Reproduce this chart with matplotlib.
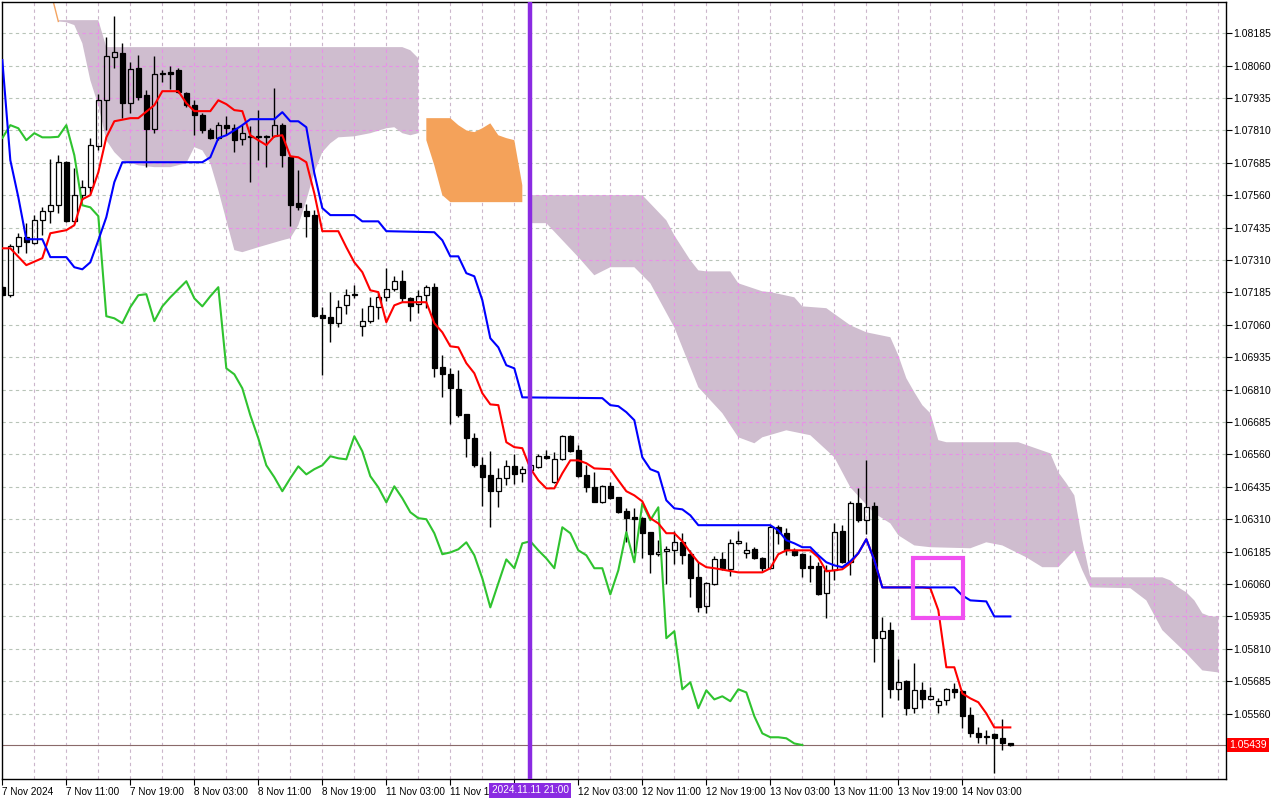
import matplotlib
matplotlib.use("Agg")
import matplotlib.pyplot as plt
import matplotlib.transforms as mtransforms
from matplotlib.patches import Rectangle
import numpy as np

plt.rcParams['font.family'] = ['Liberation Sans', 'DejaVu Sans']

# ---------------- data (EURUSD H1) ----------------
time_labels = ["7 Nov 2024", "7 Nov 11:00", "7 Nov 19:00", "8 Nov 03:00", "8 Nov 11:00",
               "8 Nov 19:00", "11 Nov 03:00", "11 Nov 11:00", "", "12 Nov 03:00",
               "12 Nov 11:00", "12 Nov 19:00", "13 Nov 03:00", "13 Nov 11:00", "13 Nov 19:00",
               "14 Nov 03:00"]
time_label_bars = [0, 8, 16, 24, 32, 40, 48, 56, 64, 72, 80, 88, 96, 104, 112, 120]

opens = [1.07205, 1.07174, 1.07363, 1.07398, 1.07375, 1.07463, 1.07498, 1.07521, 1.07687, 1.07459,
         1.07560, 1.07591, 1.07749, 1.07926, 1.08092, 1.08108, 1.07915, 1.08050, 1.07945, 1.07814,
         1.08027, 1.08034, 1.08042, 1.07953, 1.07907, 1.07868, 1.07810, 1.07780, 1.07830, 1.07818,
         1.07776, 1.07787, 1.07787, 1.07787, 1.07787, 1.07830, 1.07706, 1.07529, 1.07498, 1.07483,
         1.07097, 1.07089, 1.07066, 1.07135, 1.07174, 1.07054, 1.07074, 1.07128, 1.07166, 1.07197,
         1.07228, 1.07162, 1.07139, 1.07174, 1.07205, 1.06896, 1.06869, 1.06811, 1.06715, 1.06622,
         1.06518, 1.06479, 1.06418, 1.06468, 1.06514, 1.06487, 1.06499, 1.06510, 1.06553, 1.06452,
         1.06541, 1.06630, 1.06576, 1.06479, 1.06433, 1.06375, 1.06437, 1.06395, 1.06341, 1.06317,
         1.06314, 1.06260, 1.06175, 1.06186, 1.06190, 1.06221, 1.06175, 1.06086, 1.05974, 1.06059,
         1.06155, 1.06117, 1.06217, 1.06179, 1.06194, 1.06159, 1.06121, 1.06279, 1.06256, 1.06190,
         1.06175, 1.06128, 1.06128, 1.06024, 1.06113, 1.06263, 1.06144, 1.06371, 1.06306, 1.06360,
         1.05851, 1.05882, 1.05654, 1.05685, 1.05581, 1.05650, 1.05615, 1.05592, 1.05611, 1.05654,
         1.05646, 1.05554, 1.05484, 1.05473, 1.05480, 1.05465, 1.05445]
highs = [1.07209, 1.07371, 1.07413, 1.07452, 1.07483, 1.07513, 1.07699, 1.07714, 1.07691, 1.07664,
         1.07618, 1.07780, 1.07949, 1.08169, 1.08250, 1.08146, 1.08073, 1.08100, 1.07965, 1.08096,
         1.08042, 1.08057, 1.08050, 1.07957, 1.07926, 1.07876, 1.07818, 1.07841, 1.07864, 1.07834,
         1.07830, 1.07826, 1.07888, 1.07791, 1.07972, 1.07837, 1.07714, 1.07656, 1.07525, 1.07502,
         1.07128, 1.07186, 1.07155, 1.07197, 1.07213, 1.07124, 1.07166, 1.07182, 1.07278, 1.07247,
         1.07270, 1.07166, 1.07193, 1.07213, 1.07220, 1.06942, 1.06892, 1.06885, 1.06715, 1.06642,
         1.06549, 1.06572, 1.06506, 1.06537, 1.06560, 1.06514, 1.06530, 1.06560, 1.06576, 1.06568,
         1.06634, 1.06634, 1.06595, 1.06518, 1.06491, 1.06441, 1.06452, 1.06395, 1.06352, 1.06352,
         1.06317, 1.06260, 1.06229, 1.06206, 1.06263, 1.06256, 1.06190, 1.06144, 1.06067, 1.06167,
         1.06182, 1.06233, 1.06263, 1.06221, 1.06202, 1.06163, 1.06287, 1.06287, 1.06275, 1.06198,
         1.06179, 1.06171, 1.06144, 1.06132, 1.06294, 1.06287, 1.06379, 1.06429, 1.06537, 1.06375,
         1.05932, 1.05912, 1.05770, 1.05689, 1.05754, 1.05681, 1.05662, 1.05619, 1.05658, 1.05677,
         1.05650, 1.05584, 1.05507, 1.05496, 1.05484, 1.05538, 1.05445]
lows = [1.07170, 1.07166, 1.07336, 1.07336, 1.07371, 1.07405, 1.07452, 1.07490, 1.07456, 1.07456,
        1.07540, 1.07567, 1.07733, 1.07810, 1.08050, 1.07857, 1.07876, 1.07926, 1.07668, 1.07799,
        1.07996, 1.07969, 1.07953, 1.07899, 1.07791, 1.07799, 1.07776, 1.07772, 1.07791, 1.07726,
        1.07753, 1.07610, 1.07695, 1.07668, 1.07783, 1.07668, 1.07440, 1.07502, 1.07398, 1.07089,
        1.06865, 1.06993, 1.07050, 1.07101, 1.07162, 1.07016, 1.07066, 1.07081, 1.07151, 1.07189,
        1.07147, 1.07074, 1.07104, 1.07124, 1.06858, 1.06780, 1.06676, 1.06703, 1.06549, 1.06510,
        1.06360, 1.06279, 1.06356, 1.06441, 1.06445, 1.06452, 1.06468, 1.06506, 1.06541, 1.06449,
        1.06537, 1.06568, 1.06472, 1.06414, 1.06375, 1.06371, 1.06387, 1.06333, 1.06221, 1.06179,
        1.06159, 1.06101, 1.06167, 1.06059, 1.06136, 1.06136, 1.06009, 1.05951, 1.05947, 1.06055,
        1.06113, 1.06090, 1.06213, 1.06159, 1.06155, 1.06109, 1.06117, 1.06213, 1.06171, 1.06167,
        1.06086, 1.06067, 1.06016, 1.05928, 1.06074, 1.06140, 1.06094, 1.06298, 1.06252, 1.05758,
        1.05546, 1.05619, 1.05611, 1.05554, 1.05561, 1.05581, 1.05611, 1.05561, 1.05592, 1.05619,
        1.05503, 1.05469, 1.05445, 1.05442, 1.05330, 1.05419, 1.05434]
closes = [1.07174, 1.07363, 1.07398, 1.07378, 1.07463, 1.07498, 1.07521, 1.07687, 1.07459, 1.07560,
          1.07591, 1.07753, 1.07926, 1.08096, 1.08111, 1.07915, 1.08046, 1.07938, 1.07814, 1.08027,
          1.08030, 1.08027, 1.07957, 1.07907, 1.07868, 1.07810, 1.07780, 1.07830, 1.07818, 1.07772,
          1.07799, 1.07783, 1.07783, 1.07785, 1.07830, 1.07714, 1.07521, 1.07513, 1.07479, 1.07093,
          1.07085, 1.07066, 1.07128, 1.07174, 1.07178, 1.07074, 1.07131, 1.07166, 1.07197, 1.07228,
          1.07162, 1.07131, 1.07170, 1.07205, 1.06892, 1.06869, 1.06815, 1.06711, 1.06622, 1.06518,
          1.06472, 1.06418, 1.06468, 1.06514, 1.06483, 1.06503, 1.06518, 1.06553, 1.06545, 1.06541,
          1.06630, 1.06572, 1.06476, 1.06433, 1.06375, 1.06437, 1.06391, 1.06337, 1.06314, 1.06310,
          1.06256, 1.06175, 1.06182, 1.06194, 1.06221, 1.06171, 1.06082, 1.05970, 1.06063, 1.06155,
          1.06121, 1.06217, 1.06225, 1.06190, 1.06159, 1.06121, 1.06279, 1.06256, 1.06190, 1.06171,
          1.06121, 1.06121, 1.06020, 1.06113, 1.06260, 1.06144, 1.06371, 1.06306, 1.06356, 1.05851,
          1.05878, 1.05654, 1.05681, 1.05581, 1.05650, 1.05615, 1.05627, 1.05608, 1.05654, 1.05642,
          1.05550, 1.05484, 1.05469, 1.05469, 1.05465, 1.05445, 1.05439]

# Tenkan-sen (red)
tenkan_bars = [0, 1, 3, 5, 6, 8, 9, 10, 11, 12, 13, 14, 16, 17, 19, 20, 22, 23, 24, 26,
               27, 28, 29, 30, 31, 32, 33, 34, 35, 36, 37, 38, 39, 40, 42, 43, 44, 45, 46, 47,
               48, 49, 50, 53, 54, 55, 56, 57, 58, 59, 60, 61, 62, 63, 64, 65, 66, 67, 68, 69,
               70, 71, 72, 73, 74, 76, 77, 78, 79, 80, 81, 82, 83, 84, 85, 86, 87, 88, 89, 92,
               95, 96, 97, 98, 101, 102, 103, 105, 106, 107, 108, 109, 110, 115, 116, 117, 118, 119, 120, 121,
               122, 123, 124, 126]
tenkan = [1.07355, 1.07355, 1.07290, 1.07317, 1.07413, 1.07425, 1.07444, 1.07544, 1.07560, 1.07648,
          1.07783, 1.07845, 1.07857, 1.07857, 1.07907, 1.07961, 1.07961, 1.07915, 1.07884, 1.07884,
          1.07926, 1.07911, 1.07888, 1.07884, 1.07791, 1.07772, 1.07753, 1.07787, 1.07791, 1.07710,
          1.07706, 1.07687, 1.07567, 1.07421, 1.07421, 1.07359, 1.07301, 1.07263, 1.07193, 1.07186,
          1.07070, 1.07135, 1.07147, 1.07147, 1.07066, 1.07031, 1.06977, 1.06973, 1.06912, 1.06873,
          1.06796, 1.06753, 1.06750, 1.06607, 1.06588, 1.06584, 1.06506, 1.06460, 1.06429, 1.06429,
          1.06487, 1.06537, 1.06537, 1.06526, 1.06506, 1.06503, 1.06460, 1.06418, 1.06402, 1.06379,
          1.06314, 1.06294, 1.06256, 1.06256, 1.06225, 1.06182, 1.06144, 1.06125, 1.06121, 1.06105,
          1.06105, 1.06121, 1.06175, 1.06190, 1.06190, 1.06163, 1.06109, 1.06117, 1.06140, 1.06179,
          1.06233, 1.06152, 1.06047, 1.06047, 1.06044, 1.05959, 1.05739, 1.05739, 1.05638, 1.05619,
          1.05604, 1.05561, 1.05507, 1.05507]

# Kijun-sen (blue)
kijun_bars = [0, 1, 2, 3, 5, 6, 8, 9, 10, 11, 12, 13, 14, 15, 25, 26, 27, 28, 29, 30,
              31, 34, 35, 36, 37, 38, 39, 40, 41, 44, 45, 47, 48, 54, 55, 56, 57, 58, 59, 60,
              61, 62, 63, 64, 65, 75, 76, 77, 78, 79, 80, 81, 82, 83, 84, 85, 86, 87, 96, 97,
              98, 99, 100, 101, 102, 103, 104, 105, 106, 107, 108, 109, 110, 119, 120, 121, 123, 124, 126]
kijun = [1.08081, 1.07695, 1.07552, 1.07390, 1.07390, 1.07321, 1.07321, 1.07282, 1.07274, 1.07301,
         1.07386, 1.07475, 1.07610, 1.07687, 1.07687, 1.07706, 1.07780, 1.07791, 1.07810, 1.07830,
         1.07853, 1.07853, 1.07880, 1.07845, 1.07845, 1.07822, 1.07645, 1.07510, 1.07483, 1.07483,
         1.07459, 1.07459, 1.07421, 1.07417, 1.07386, 1.07324, 1.07324, 1.07259, 1.07247, 1.07155,
         1.07008, 1.06973, 1.06904, 1.06892, 1.06780, 1.06777, 1.06750, 1.06746, 1.06723, 1.06692,
         1.06549, 1.06503, 1.06491, 1.06383, 1.06352, 1.06348, 1.06325, 1.06287, 1.06287, 1.06267,
         1.06229, 1.06217, 1.06202, 1.06202, 1.06171, 1.06144, 1.06132, 1.06125, 1.06148, 1.06179,
         1.06233, 1.06152, 1.06047, 1.06047, 1.06016, 1.05997, 1.05993, 1.05935, 1.05935]

chikou_shift = 26

# Kumo (cloud) - first bearish part
cloud1_top_bars = [7, 12, 13, 50, 51, 52]
cloud1_top = [1.08235, 1.08235, 1.08131, 1.08131, 1.08119, 1.08088]
cloud1_bot_bars = [7, 8, 9, 10, 11, 12, 13, 14, 15, 17, 19, 21, 23, 24, 25, 26, 27, 28, 29, 30,
                   32, 35, 36, 37, 38, 39, 40, 41, 42, 44, 46, 48, 49, 50, 51, 52]
cloud1_bot = [1.08230, 1.08227, 1.08216, 1.08146, 1.08003, 1.07907, 1.07772, 1.07726, 1.07695, 1.07675,
              1.07668, 1.07668, 1.07683, 1.07745, 1.07733, 1.07683, 1.07579, 1.07463, 1.07348, 1.07340,
              1.07359, 1.07386, 1.07394, 1.07444, 1.07540, 1.07648, 1.07726, 1.07760, 1.07783, 1.07787,
              1.07799, 1.07818, 1.07822, 1.07799, 1.07791, 1.07799]
spanA_lead_bars = [6, 7]
spanA_lead = [1.08351, 1.08230]

# bullish part (orange)
cloud_bull_bars = [53, 54, 55, 56, 57, 58, 59, 60, 61, 62, 63, 64, 65]
cloud_bull_top = [1.07857, 1.07857, 1.07857, 1.07857, 1.07830, 1.07810, 1.07803, 1.07818, 1.07837,
                  1.07791, 1.07780, 1.07772, 1.07598]
cloud_bull_bot = [1.07772, 1.07675, 1.07560, 1.07533, 1.07533, 1.07533, 1.07533, 1.07533, 1.07533,
                  1.07533, 1.07533, 1.07533, 1.07533]

# second bearish part
cloud2_top_bars = [66, 80, 83, 84, 86, 87, 88, 91, 92, 95, 96, 99, 100, 103, 106, 108, 111, 112, 113, 114,
                   115, 116, 117, 118, 127, 131, 132, 133, 134, 135, 136, 145, 146, 147, 148, 149, 150, 151, 152]
cloud2_top = [1.07560, 1.07560, 1.07463, 1.07405, 1.07309, 1.07270, 1.07266, 1.07266, 1.07220, 1.07189,
              1.07186, 1.07166, 1.07131, 1.07124, 1.07058, 1.07031, 1.07012, 1.06942, 1.06854, 1.06800,
              1.06750, 1.06719, 1.06615, 1.06607, 1.06607, 1.06564, 1.06491, 1.06449, 1.06402, 1.06229,
              1.06086, 1.06086, 1.06074, 1.06047, 1.06028, 1.05997, 1.05947, 1.05935, 1.05935]
cloud2_bot_bars = [66, 68, 72, 74, 76, 79, 81, 84, 87, 90, 92, 94, 95, 98, 101, 104, 106, 109, 111, 112,
                   114, 116, 121, 123, 125, 128, 130, 132, 134, 135, 136, 141, 143, 145, 148, 150, 152]
cloud2_bot = [1.07452, 1.07452, 1.07321, 1.07251, 1.07282, 1.07282, 1.07220, 1.07050, 1.06819, 1.06719,
              1.06626, 1.06603, 1.06626, 1.06653, 1.06634, 1.06549, 1.06433, 1.06333, 1.06294, 1.06248,
              1.06209, 1.06202, 1.06198, 1.06221, 1.06209, 1.06163, 1.06125, 1.06125, 1.06190, 1.06113,
              1.06047, 1.06044, 1.05997, 1.05882, 1.05793, 1.05727, 1.05719]

last_price = 1.05439
marker_bar = 66
marker_label = "2024.11.11 21:00"
highlight_bars = [113.8, 120.1]
highlight_prices = [1.05930, 1.06162]

price_low, price_high = 1.05308, 1.08305
price_ticks = [1.05560, 1.05685, 1.05810, 1.05935, 1.06060, 1.06185, 1.06310, 1.06435, 1.06560,
               1.06685, 1.06810, 1.06935, 1.07060, 1.07185, 1.07310, 1.07435, 1.07560, 1.07685,
               1.07810, 1.07935, 1.08060, 1.08185]
n_future = 26

# ---------------- figure ----------------
fig = plt.figure(figsize=(12.8, 8), dpi=100)
ax = fig.add_axes([2 / 1280, 21 / 800, 1224 / 1280, 777 / 800])
bars = np.arange(len(opens))
last_bar = bars[-1] + n_future
ax.set_xlim(-0.04, last_bar + 0.96)
ax.set_ylim(price_low, price_high)

hcol = '#b8c4b8'
vcol = '#cbb6cb'
dash = (0, (3, 3))
grid_x = np.arange(4, last_bar + 1, 4)
for gx in grid_x:
    ax.axvline(gx, color=vcol, lw=0.8, ls=dash, zorder=0.5)
for gy in price_ticks:
    ax.axhline(gy, color=hcol, lw=0.8, ls=dash, zorder=0.5)

# cloud
cloud_col = '#cfbdcf'
polys = []
for tb, tv, bb, bv in [(cloud1_top_bars, cloud1_top, cloud1_bot_bars, cloud1_bot),
                       (cloud2_top_bars, cloud2_top, cloud2_bot_bars, cloud2_bot)]:
    xs = list(tb) + list(bb)[::-1]
    ys = list(tv) + list(bv)[::-1]
    p = ax.fill(xs, ys, color=cloud_col, lw=0, zorder=1)[0]
    polys.append(p)
ax.fill(list(cloud_bull_bars) + cloud_bull_bars[::-1], list(cloud_bull_top) + cloud_bull_bot[::-1],
        color='#f4a25a', lw=0, zorder=1)
ax.plot(spanA_lead_bars, spanA_lead, color='#f4a460', lw=1, zorder=1)

# grid lines seen through the cloud
for p in polys:
    for gx in grid_x:
        ln = ax.axvline(gx, color='#e890e8', lw=0.8, ls=dash, zorder=1.2)
        ln.set_clip_path(p)
    for gy in price_ticks:
        ln = ax.axhline(gy, color='#e890e8', lw=0.8, ls=dash, zorder=1.2)
        ln.set_clip_path(p)

# candles
o = np.array(opens); h = np.array(highs); l = np.array(lows); c = np.array(closes)
bull = c >= o
top = np.maximum(o, c); bot = np.minimum(o, c)
ax.vlines(bars, top, h, color='black', lw=1.0, zorder=3)
ax.vlines(bars, l, bot, color='black', lw=1.0, zorder=3)
ax.bar(bars[bull], (top - bot)[bull], bottom=bot[bull], width=0.62, facecolor='none',
       edgecolor='black', lw=0.9, zorder=3)
ax.bar(bars[~bull], (top - bot)[~bull], bottom=bot[~bull], width=0.62, facecolor='black',
       edgecolor='black', lw=0.9, zorder=3)

# ichimoku lines
ax.plot(bars - chikou_shift, closes, color='#2fc32f', lw=1.5, zorder=4)
ax.plot(tenkan_bars, tenkan, color='#ff0000', lw=1.5, zorder=4.1)
ax.plot(kijun_bars, kijun, color='#0000ff', lw=1.5, zorder=4.2)

# bid line
ax.axhline(last_price, color='#8a6a6a', lw=0.8, zorder=2.5)

# vertical marker
ax.axvline(marker_bar, color='#8a2be2', lw=3.2, zorder=7)

# highlight rectangle
ax.add_patch(Rectangle((highlight_bars[0], highlight_prices[0]),
                       highlight_bars[1] - highlight_bars[0],
                       highlight_prices[1] - highlight_prices[0],
                       fill=False, ec='#f050f0', lw=3, zorder=8))

# axes styling
for s in ax.spines.values():
    s.set_color('black'); s.set_linewidth(1.0)
ax.yaxis.tick_right()
ax.set_yticks(price_ticks)
ax.set_yticklabels([f"{v:.5f}" for v in price_ticks], fontsize=7.5)
ax.tick_params(axis='y', direction='out', length=4, pad=1.5, width=0.8)
ax.set_xticks(time_label_bars)
ax.set_xticklabels(time_labels, fontsize=7.2, ha='left')
ax.tick_params(axis='x', direction='out', length=4, pad=1.5, width=0.8)

# price tag
tr_y = mtransforms.blended_transform_factory(ax.transAxes, ax.transData)
ax.text(1.0 + 3 / 1224, last_price, f"{last_price:.5f}", transform=tr_y, ha='left', va='center',
        color='white', fontsize=7.5, zorder=20, clip_on=False,
        bbox=dict(boxstyle='square,pad=0.2', fc='#ff0000', ec='none'))

# marker date tag
tr_x = mtransforms.blended_transform_factory(ax.transData, ax.transAxes)
ax.text(marker_bar, -11 / 777, marker_label, transform=tr_x, ha='center', va='center',
        color='white', fontsize=7.2, zorder=20, clip_on=False,
        bbox=dict(boxstyle='square,pad=0.25', fc='#8a2be2', ec='none'))

fig.savefig("out.png", dpi=100, facecolor='white')
